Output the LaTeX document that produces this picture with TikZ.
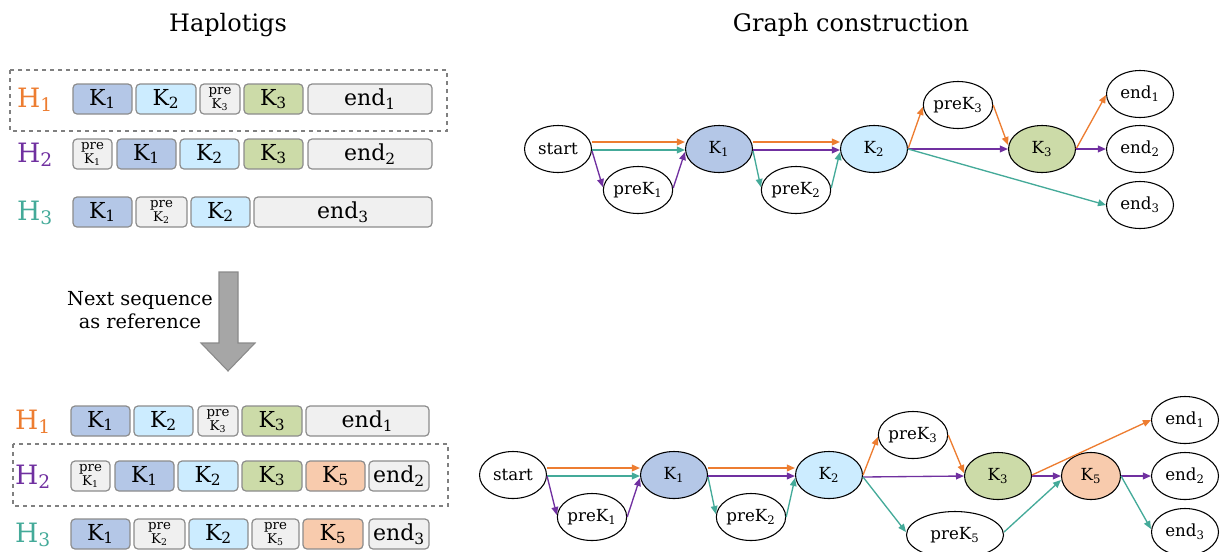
\documentclass[tikz,border=0pt]{standalone}
\usepackage{fontspec}
\setmainfont{DejaVu Serif}
\usetikzlibrary{shapes.geometric,arrows.meta}
\definecolor{cOr}{HTML}{ED7D31}
\definecolor{cPu}{HTML}{7030A0}
\definecolor{cTe}{HTML}{44AA99}
\definecolor{kA}{HTML}{B4C7E7}
\definecolor{kB}{HTML}{CCECFF}
\definecolor{kC}{HTML}{CCDBA8}
\definecolor{kE}{HTML}{F8CBAD}
\definecolor{gbox}{HTML}{F0F0F0}
\definecolor{bord}{HTML}{8C8C8C}
\definecolor{arrfill}{HTML}{A6A6A6}
\definecolor{arrdraw}{HTML}{8A8A8A}
\tikzset{
 segbox/.style={draw=bord, line width=0.9pt, rounded corners=3pt, minimum height=22.5pt, inner sep=0pt, font=\fontsize{16.5}{17}\selectfont},
 prebox/.style={fill=gbox, align=center, font=\fontsize{10}{9}\selectfont},
 gnode/.style={ellipse, draw=black, line width=0.8pt, inner sep=0pt, minimum width=50.25pt, minimum height=35.25pt, font=\fontsize{12.5}{14}\selectfont},
 ed/.style={line width=1pt, -{Triangle[length=6pt,width=5pt]}},
 hlab/.style={font=\fontsize{20}{22}\selectfont},
 ttl/.style={font=\fontsize{18}{20}\selectfont},
 dbox/.style={draw=gray, dashed, line width=0.8pt}
}
\newcommand{\seg}[6]{\pgfmathsetmacro{\segc}{(#2+#3)/2}\pgfmathsetmacro{\segw}{(#3-#2)*0.75}\node[segbox,#5,minimum width=\segw pt] (#1) at (\segc,#4) {#6};}
\newcommand{\Kk}[1]{K\textsubscript{#1}}
\newcommand{\pK}[1]{pre\\K\textsubscript{#1}}
\begin{document}
\begin{tikzpicture}[x=0.75pt,y=-0.75pt]
\useasboundingbox (0,0) rectangle (1220,551);
% titles
\node[ttl] (t1) at (228,25) {Haplotigs};
\node[ttl] (t2) at (851,25) {Graph construction};
% ---------- top haplotigs
\draw[dbox] (10,70) rectangle (447,131);
\node[hlab,text=cOr] (h1) at (35,100) {H\textsubscript{1}};
\node[hlab,text=cPu] (h2) at (35,155) {H\textsubscript{2}};
\node[hlab,text=cTe] (h3) at (35,213) {H\textsubscript{3}};
\seg{a1}{73}{132}{99}{fill=kA}{\Kk{1}}
\seg{a2}{136}{196}{99}{fill=kB}{\Kk{2}}
\seg{a3}{200}{240}{99}{prebox}{\pK{3}}
\seg{a4}{244}{303}{99}{fill=kC}{\Kk{3}}
\seg{a5}{308}{432}{99}{fill=gbox}{end\textsubscript{1}}
\seg{b1}{73}{112}{154}{prebox}{\pK{1}}
\seg{b2}{117}{176}{154}{fill=kA}{\Kk{1}}
\seg{b3}{180}{239}{154}{fill=kB}{\Kk{2}}
\seg{b4}{244}{303}{154}{fill=kC}{\Kk{3}}
\seg{b5}{308}{432}{154}{fill=gbox}{end\textsubscript{2}}
\seg{c1}{73}{132}{212}{fill=kA}{\Kk{1}}
\seg{c2}{136}{187}{212}{prebox}{\pK{2}}
\seg{c3}{191}{250}{212}{fill=kB}{\Kk{2}}
\seg{c4}{254}{432}{212}{fill=gbox}{end\textsubscript{3}}
% ---------- arrow
\draw[fill=arrfill,draw=arrdraw,line width=0.8pt] (219,272) -- (238,272) -- (238,343) -- (255,343) -- (228,371) -- (201,343) -- (219,343) -- cycle;
\node[align=center,font=\fontsize{14.5}{17.25}\selectfont] (nx) at (140,310) {Next sequence\\as reference};
% ---------- bottom haplotigs
\draw[dbox] (13,444) rectangle (448,506);
\node[hlab,text=cOr] (g1) at (33,422) {H\textsubscript{1}};
\node[hlab,text=cPu] (g2) at (33,477) {H\textsubscript{2}};
\node[hlab,text=cTe] (g3) at (33,535) {H\textsubscript{3}};
\seg{d1}{71}{130}{421}{fill=kA}{\Kk{1}}
\seg{d2}{134}{193}{421}{fill=kB}{\Kk{2}}
\seg{d3}{198}{238}{421}{prebox}{\pK{3}}
\seg{d4}{242}{302}{421}{fill=kC}{\Kk{3}}
\seg{d5}{306}{429}{421}{fill=gbox}{end\textsubscript{1}}
\seg{e1}{71}{110}{476}{prebox}{\pK{1}}
\seg{e2}{115}{174}{476}{fill=kA}{\Kk{1}}
\seg{e3}{178}{238}{476}{fill=kB}{\Kk{2}}
\seg{e4}{242}{302}{476}{fill=kC}{\Kk{3}}
\seg{e5}{306}{365}{476}{fill=kE}{\Kk{5}}
\seg{e6}{369}{429}{476}{fill=gbox}{end\textsubscript{2}}
\seg{f1}{71}{130}{534}{fill=kA}{\Kk{1}}
\seg{f2}{134}{185}{534}{prebox}{\pK{2}}
\seg{f3}{189}{248}{534}{fill=kB}{\Kk{2}}
\seg{f4}{252}{299}{534}{prebox}{\pK{5}}
\seg{f5}{303}{363}{534}{fill=kE}{\Kk{5}}
\seg{f6}{369}{429}{534}{fill=gbox}{end\textsubscript{3}}
% ---------- top graph
\node[gnode] (s) at (558,149) {start};
\node[gnode] (p1) at (638,190) {pre\Kk{1}};
\node[gnode,fill=kA] (k1) at (719,149) {\Kk{1}};
\node[gnode] (p2) at (796,190) {pre\Kk{2}};
\node[gnode,fill=kB] (k2) at (874,149) {\Kk{2}};
\node[gnode] (p3) at (958,105) {pre\Kk{3}};
\node[gnode,fill=kC] (k3) at (1042,149) {\Kk{3}};
\node[gnode] (n1) at (1140,94) {end\textsubscript{1}};
\node[gnode] (n2) at (1140,149) {end\textsubscript{2}};
\node[gnode] (n3) at (1140,205) {end\textsubscript{3}};
\draw[ed,cOr] ([shift={(0,-7)}]s.east) -- ([shift={(0,-7)}]k1.west);
\draw[ed,cTe] ([shift={(0,1)}]s.east) -- ([shift={(0,1)}]k1.west);
\draw[ed,cPu] ([shift={(0,2)}]s.east) -- ([shift={(0,-3)}]p1.west);
\draw[ed,cPu] ([shift={(0,-2)}]p1.east) -- ([shift={(0,3)}]k1.west);
\draw[ed,cOr] ([shift={(0,-7)}]k1.east) -- ([shift={(0,-7)}]k2.west);
\draw[ed,cPu] ([shift={(0,1)}]k1.east) -- ([shift={(0,1)}]k2.west);
\draw[ed,cTe] ([shift={(0,2)}]k1.east) -- ([shift={(0,-3)}]p2.west);
\draw[ed,cTe] ([shift={(0,-2)}]p2.east) -- ([shift={(0,3)}]k2.west);
\draw[ed,cOr] (k2.east) -- ([shift={(0,2)}]p3.west);
\draw[ed,cOr] (p3.east) -- ([shift={(0,-4)}]k3.west);
\draw[ed,cPu] (k2.east) -- (k3.west);
\draw[ed,cTe] (k2.east) -- (n3.west);
\draw[ed,cOr] (k3.east) -- ([shift={(0,1)}]n1.west);
\draw[ed,cPu] (k3.east) -- (n2.west);
% ---------- bottom graph
\node[gnode] (S) at (513,475) {start};
\node[gnode] (P1) at (592,517) {pre\Kk{1}};
\node[gnode,fill=kA] (K1) at (674,475) {\Kk{1}};
\node[gnode] (P2) at (751,517) {pre\Kk{2}};
\node[gnode,fill=kB] (K2) at (829,475) {\Kk{2}};
\node[gnode] (P3) at (913,435) {pre\Kk{3}};
\node[gnode,fill=kC] (K3) at (998,476) {\Kk{3}};
\node[gnode,fill=kE,minimum width=44.25pt] (K5) at (1091,476) {\Kk{5}};
\node[gnode,minimum width=72.75pt] (P5) at (955,535) {pre\Kk{5}};
\node[gnode] (N1) at (1185,420) {end\textsubscript{1}};
\node[gnode] (N2) at (1185,476) {end\textsubscript{2}};
\node[gnode] (N3) at (1185,532) {end\textsubscript{3}};
\draw[ed,cOr] ([shift={(0,-7)}]S.east) -- ([shift={(0,-7)}]K1.west);
\draw[ed,cTe] ([shift={(0,1)}]S.east) -- ([shift={(0,1)}]K1.west);
\draw[ed,cPu] ([shift={(0,1)}]S.east) -- ([shift={(0,-2)}]P1.west);
\draw[ed,cPu] (P1.east) -- ([shift={(0,3)}]K1.west);
\draw[ed,cOr] ([shift={(0,-7)}]K1.east) -- ([shift={(0,-7)}]K2.west);
\draw[ed,cPu] ([shift={(0,1)}]K1.east) -- ([shift={(0,1)}]K2.west);
\draw[ed,cTe] ([shift={(0,2)}]K1.east) -- ([shift={(0,-3)}]P2.west);
\draw[ed,cTe] (P2.east) -- ([shift={(0,3)}]K2.west);
\draw[ed,cOr] (K2.east) -- ([shift={(0,2)}]P3.west);
\draw[ed,cOr] (P3.east) -- ([shift={(0,-3)}]K3.west);
\draw[ed,cPu] ([shift={(0,2)}]K2.east) -- (K3.west);
\draw[ed,cTe] ([shift={(0,2)}]K2.east) -- ([shift={(0,-3)}]P5.west);
\draw[ed,cTe] ([shift={(0,-3)}]P5.east) -- ([shift={(0,4)}]K5.west);
\draw[ed,cPu] (K3.east) -- (K5.west);
\draw[ed,cOr] ([shift={(0,-1)}]K3.east) -- (N1.west);
\draw[ed,cPu] (K5.east) -- (N2.west);
\draw[ed,cTe] (K5.east) -- ([shift={(0,-3)}]N3.west);
\end{tikzpicture}
\end{document}
